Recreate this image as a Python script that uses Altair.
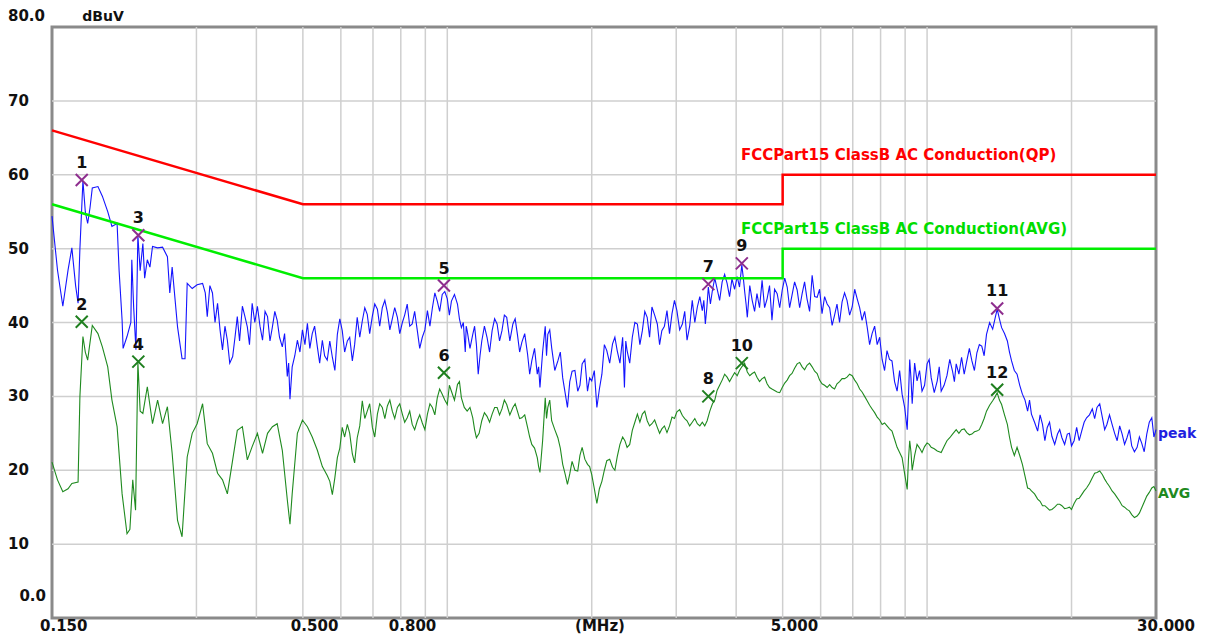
import altair as alt
import pandas as pd

# ---------------- data ----------------
peak_freq = [0.150, 0.154, 0.158, 0.162, 0.165, 0.168, 0.170, 0.1715, 0.174, 0.176, 0.178, 0.180, 0.182, 0.187,
             0.191, 0.196, 0.200, 0.205, 0.207, 0.210, 0.211, 0.215, 0.219, 0.220, 0.222, 0.2244, 0.2265, 0.229,
             0.232, 0.234, 0.237, 0.240, 0.243, 0.249, 0.255, 0.261, 0.264, 0.267, 0.274, 0.280, 0.284, 0.287,
             0.294, 0.301, 0.309, 0.313, 0.316, 0.320, 0.324, 0.332, 0.340, 0.348, 0.357, 0.365, 0.374, 0.383,
             0.392, 0.402, 0.412, 0.422, 0.432, 0.442, 0.453, 0.464, 0.470, 0.475, 0.487, 0.499, 0.511, 0.523,
             0.536, 0.549, 0.562, 0.576, 0.590, 0.604, 0.619, 0.634, 0.649, 0.665, 0.681, 0.698, 0.715, 0.732,
             0.750, 0.768, 0.787, 0.806, 0.825, 0.845, 0.866, 0.887, 0.909, 0.931, 0.953, 0.976, 1.00, 1.02,
             1.05, 1.07, 1.09, 1.10, 1.13, 1.15, 1.16, 1.18, 1.21, 1.24, 1.27, 1.30, 1.33, 1.37, 1.40, 1.43,
             1.47, 1.50, 1.54, 1.56, 1.60, 1.62, 1.65, 1.70, 1.74, 1.78, 1.82, 1.87, 1.91, 1.96, 2.00, 2.05,
             2.10, 2.15, 2.21, 2.26, 2.32, 2.34, 2.37, 2.43, 2.49, 2.55, 2.61, 2.67, 2.74, 2.80, 2.87, 2.94,
             3.01, 3.09, 3.16, 3.24, 3.32, 3.40, 3.45, 3.50, 3.57, 3.65, 3.74, 3.83, 3.92, 4.02, 4.11, 4.17,
             4.22, 4.32, 4.42, 4.53, 4.64, 4.75, 4.87, 4.99, 5.11, 5.23, 5.36, 5.49, 5.62, 5.76, 5.90, 6.04,
             6.19, 6.34, 6.49, 6.65, 6.81, 6.98, 7.15, 7.32, 7.50, 7.68, 7.87, 8.06, 8.25, 8.45, 8.66, 8.87,
             9.09, 9.20, 9.31, 9.53, 9.76, 10.0, 10.2, 10.5, 10.7, 11.0, 11.3, 11.5, 11.8, 12.1, 12.4, 12.7,
             13.0, 13.3, 13.7, 14.0, 14.3, 14.7, 15.0, 15.4, 15.8, 16.2, 16.5, 17.0, 17.4, 17.8, 18.2, 18.7,
             19.1, 19.6, 20.0, 20.5, 21.0, 21.5, 22.1, 22.6, 23.2, 23.7, 24.3, 24.9, 25.5, 26.1, 26.7, 27.4,
             28.0, 28.7, 29.4, 30.0]
peak_db = [54.4, 47.1, 42.2, 47.1, 50.1, 45.0, 42.6, 50.0, 59.2, 55.0, 53.4, 55.5, 58.2, 58.4,
           57.1, 55.0, 53.0, 53.4, 47.0, 40.3, 36.5, 38.1, 40.0, 48.5, 42.0, 36.3, 51.8, 47.0,
           50.7, 46.0, 48.5, 47.5, 50.3, 50.1, 50.2, 48.9, 44.0, 47.5, 39.4, 35.1, 35.1, 45.3,
           44.6, 45.1, 45.3, 44.0, 40.8, 45.0, 44.0, 42.6, 36.3, 37.6, 35.4, 40.8, 42.2, 39.4,
           42.6, 42.2, 37.6, 40.8, 39.4, 40.3, 36.7, 32.7, 29.6, 34.0, 37.6, 39.0, 39.9, 38.5,
           36.7, 37.6, 34.9, 35.3, 38.4, 38.9, 37.5, 34.8, 40.7, 40.2, 41.1, 40.9, 41.8, 42.0,
           41.4, 40.5, 40.7, 40.0, 42.5, 39.8, 38.9, 38.0, 41.6, 42.0, 42.9, 43.8, 43.2, 42.9,
           42.5, 39.3, 36.0, 38.9, 38.4, 37.0, 33.0, 37.5, 38.0, 38.9, 39.8, 38.9, 40.7, 39.8, 38.4, 37.3,
           35.7, 34.8, 33.0, 31.2, 39.5, 38.4, 36.6, 34.8, 32.5, 28.5, 33.4, 30.7, 34.4, 30.7, 32.1, 28.5,
           33.0, 36.2, 37.1, 36.2, 38.0, 31.2, 36.2, 38.0, 39.8, 38.9, 40.7, 42.1, 39.8, 38.9, 41.6, 41.2,
           41.6, 39.8, 37.6, 43.0, 42.1, 41.6, 39.8, 44.8, 44.4, 44.6, 45.5, 45.3, 45.9, 46.2, 47.8, 44.0,
           40.7, 43.0, 43.9, 45.7, 43.2, 40.3, 43.9, 44.4, 44.8, 43.7, 44.4, 43.9, 43.2, 46.4, 43.4, 41.2,
           42.5, 39.6, 42.5, 42.8, 43.0, 42.1, 43.2, 40.3, 39.4, 38.5, 37.0, 35.0, 36.2, 34.8, 30.7, 30.3,
           25.5, 35.0, 29.0, 32.1, 30.7, 34.4, 32.5, 32.1, 30.7, 32.8, 33.4, 34.4, 35.3, 34.8, 34.8, 35.9,
           36.8, 38.4, 39.1, 41.8, 39.3, 37.5, 34.8, 33.0, 30.3, 28.0, 27.6, 25.3, 26.2, 25.8, 24.6, 24.9,
           24.4, 24.9, 23.3, 25.8, 25.3, 27.1, 28.3, 28.5, 27.1, 26.2, 26.2, 24.0, 24.9, 24.4, 23.3, 23.1,
           23.7, 24.9, 27.1, 25.5]

# in-between samples of the dense noisy band of the peak trace
peak_fine_freq = [0.328, 0.336, 0.344, 0.352, 0.361, 0.369, 0.378, 0.387, 0.397, 0.407, 0.417, 0.427, 0.437,
                  0.447, 0.458, 0.467, 0.481, 0.493, 0.505, 0.517, 0.529, 0.542, 0.555, 0.569, 0.583, 0.597,
                  0.611, 0.626, 0.641, 0.657, 0.673, 0.689, 0.706, 0.723, 0.741, 0.759, 0.777, 0.796, 0.815,
                  0.835, 0.855, 0.876, 0.898, 0.920, 0.942, 0.964, 0.988, 1.01, 1.035, 1.06, 1.08, 1.095,
                  1.115, 1.14, 1.17, 1.195, 1.225, 1.255, 1.285, 1.315, 1.35, 1.385, 1.415, 1.45, 1.485, 1.52,
                  1.55, 1.58, 1.61, 1.635, 1.675, 1.72, 1.76, 1.80, 1.845, 1.89, 1.935, 1.98, 2.025, 2.075,
                  2.125, 2.18, 2.235, 2.29, 2.355, 2.40, 2.46, 2.52, 2.58, 2.64, 2.705, 2.77, 2.835, 2.905,
                  2.975, 3.05, 3.125, 3.20, 3.28, 3.36, 3.425, 3.475, 3.535, 3.61, 3.695, 3.785, 3.875, 3.97,
                  4.065, 4.14, 4.195, 4.27, 4.37, 4.475, 4.585, 4.695, 4.81, 4.93, 5.05, 5.17, 5.295, 5.425,
                  5.555, 5.69, 5.83, 5.97, 6.115, 6.265, 6.415, 6.57, 6.73, 6.895, 7.065, 7.235, 7.41, 7.59,
                  7.775, 7.965, 8.155, 8.35, 8.555, 8.765, 8.98, 9.145, 9.255, 9.42, 9.645, 9.88, 10.1, 10.35,
                  10.6, 10.85, 11.15, 11.4, 11.65, 11.95, 12.25, 12.55, 12.85, 13.15, 13.5, 13.85, 14.15,
                  14.5, 14.85, 15.2, 15.6, 16.0, 16.35, 16.75, 17.2, 17.6, 18.0, 18.45, 18.9, 19.35, 19.8,
                  20.25, 20.75, 21.25, 21.8, 22.35, 22.9, 23.45, 24.0, 24.6, 25.2, 25.8, 26.4, 27.05, 27.7,
                  28.35, 29.05, 29.7]
peak_fine_db = [40.0, 39.0, 39.5, 34.5, 38.0, 37.5, 41.0, 37.0, 40.0, 39.5, 41.5, 37.5, 41.5,
                38.0, 38.5, 34.5, 35.5, 36.0, 37.0, 36.5, 39.5, 34.5, 35.5, 37.5, 33.5, 40.5,
                36.0, 38.0, 37.0, 38.0, 42.0, 38.5, 42.5, 39.5, 43.0, 39.0, 42.0, 38.5, 41.0,
                39.5, 41.5, 36.5, 39.0, 39.5, 44.0, 41.5, 44.2, 41.0, 43.8, 40.5, 40.0, 39.5,
                36.5, 39.5, 35.5, 39.5, 36.0, 40.5, 37.5, 41.0, 37.5, 40.5, 36.0, 38.5, 33.0, 36.5,
                34.0, 36.0, 35.5, 39.0, 33.5, 36.0, 30.5, 32.0, 33.5, 31.5, 35.0, 32.5, 33.5, 31.0,
                37.0, 34.5, 38.0, 34.5, 37.5, 34.5, 40.0, 37.0, 41.5, 38.0, 41.0, 37.0, 39.5, 38.5,
                43.0, 39.0, 41.5, 39.5, 40.0, 43.5, 43.0, 42.0, 42.5, 46.0, 43.0, 46.5, 43.5, 44.5,
                44.8, 46.0, 42.5, 45.0, 41.5, 42.0, 42.0, 45.0, 44.5, 42.0, 46.0, 42.0, 45.5, 42.0,
                45.5, 41.5, 43.5, 44.5, 43.5, 42.0, 41.0, 40.0, 44.0, 41.0, 44.5, 42.0, 41.5, 37.0,
                39.5, 38.0, 33.5, 35.0, 32.0, 33.5, 28.5, 30.0, 32.5, 34.5, 33.5, 31.5, 35.0, 30.5,
                34.0, 31.5, 35.0, 32.0, 33.0, 33.0, 36.5, 33.5, 37.0, 35.5, 40.0, 40.5, 40.5,
                38.5, 36.0, 33.5, 31.5, 29.5, 29.5, 26.5, 27.5, 24.0, 26.5, 23.5, 25.5, 23.5, 25.0,
                24.0, 24.0, 26.5, 27.5, 27.0, 29.0, 25.5, 27.5, 25.0, 26.0, 23.5, 25.5, 22.5, 24.5,
                22.5, 26.5, 24.5]

avg_freq = [0.150, 0.154, 0.158, 0.162, 0.165, 0.170, 0.1715, 0.174, 0.176, 0.178, 0.182, 0.187, 0.191,
            0.196, 0.200, 0.205, 0.210, 0.215, 0.218, 0.221, 0.224, 0.2265, 0.229, 0.232, 0.237, 0.243,
            0.249, 0.255, 0.261, 0.267, 0.274, 0.280, 0.287, 0.294, 0.301, 0.309, 0.316, 0.324, 0.332,
            0.340, 0.348, 0.357, 0.365, 0.374, 0.383, 0.392, 0.402, 0.412, 0.422, 0.432, 0.442, 0.453,
            0.464, 0.470, 0.475, 0.487, 0.499, 0.511, 0.523, 0.536, 0.549, 0.562, 0.576, 0.590, 0.604,
            0.619, 0.634, 0.649, 0.665, 0.681, 0.698, 0.715, 0.732, 0.750, 0.768, 0.787, 0.806, 0.825,
            0.845, 0.866, 0.887, 0.909, 0.931, 0.953, 0.976, 1.00, 1.02, 1.05, 1.07, 1.10, 1.13, 1.15,
            1.18, 1.21, 1.24, 1.27, 1.30, 1.33, 1.37, 1.40, 1.43, 1.47, 1.50, 1.54, 1.56, 1.60, 1.62,
            1.65, 1.70, 1.74, 1.78, 1.82, 1.87, 1.91, 1.96, 2.00, 2.05, 2.10, 2.15, 2.21, 2.26, 2.32,
            2.37, 2.43, 2.49, 2.55, 2.61, 2.67, 2.74, 2.80, 2.87, 2.94, 3.01, 3.09, 3.16, 3.24, 3.32,
            3.40, 3.48, 3.57, 3.65, 3.74, 3.83, 3.92, 4.02, 4.11, 4.22, 4.32, 4.42, 4.53, 4.64, 4.75,
            4.87, 4.99, 5.11, 5.23, 5.36, 5.49, 5.62, 5.76, 5.90, 6.04, 6.19, 6.34, 6.49, 6.65, 6.81,
            6.98, 7.15, 7.32, 7.50, 7.68, 7.87, 8.06, 8.25, 8.45, 8.66, 8.87, 9.09, 9.20, 9.31, 9.53,
            9.76, 10.0, 10.2, 10.5, 10.7, 11.0, 11.3, 11.5, 11.8, 12.1, 12.4, 12.7, 13.0, 13.3, 13.7,
            14.0, 14.3, 14.7, 15.0, 15.4, 15.8, 16.2, 16.5, 17.0, 17.4, 17.8, 18.2, 18.7, 19.1, 19.6,
            20.0, 20.5, 21.0, 21.5, 22.1, 22.6, 23.2, 23.7, 24.3, 24.9, 25.5, 26.1, 26.7, 27.4, 28.0,
            28.7, 29.4, 30.0]
avg_db = [21.1, 18.7, 17.1, 17.5, 18.2, 18.4, 30.0, 38.1, 36.0, 34.9, 39.6, 38.5, 36.7,
          34.0, 29.5, 25.9, 16.8, 11.4, 12.0, 18.7, 14.6, 34.7, 28.0, 27.7, 31.3, 26.3,
          29.5, 26.3, 28.6, 22.3, 13.2, 11.0, 21.8, 25.0, 26.3, 29.0, 23.6, 22.3, 19.6,
          18.7, 16.8, 21.4, 25.4, 25.9, 21.4, 23.2, 25.0, 22.3, 25.0, 25.9, 26.3, 22.7,
          16.0, 12.7, 16.8, 25.0, 26.8, 25.9, 24.5, 22.7, 20.5, 19.3, 16.7, 21.7, 25.8,
          26.2, 22.2, 24.4, 29.4, 28.0, 25.8, 27.6, 28.5, 28.7, 28.0, 28.5, 27.6, 27.1,
          26.2, 26.7, 26.4, 27.6, 28.5, 29.8, 30.3, 28.9, 30.7, 31.6, 29.8, 28.0, 27.1, 24.4,
          26.7, 27.3, 27.6, 28.5, 28.3, 28.9, 28.5, 28.0, 27.1, 25.8, 23.5, 21.7, 19.7, 29.8, 28.5,
          26.7, 24.4, 20.8, 18.1, 21.2, 19.9, 23.1, 20.8, 19.4, 15.5, 18.5, 21.3, 20.4, 21.8, 24.5,
          23.1, 25.4, 27.6, 27.6, 26.7, 26.3, 25.8, 25.6, 25.1, 27.2, 27.9, 27.4, 26.7, 26.5, 26.3,
          26.5, 26.7, 29.0, 30.8, 32.2, 32.6, 32.6, 32.8, 34.0, 33.3, 33.1, 32.6, 32.4, 31.7, 31.0,
          30.6, 31.2, 32.2, 33.1, 34.4, 34.0, 34.2, 34.0, 33.1, 31.7, 31.2, 31.2, 31.7, 32.4, 32.6,
          32.8, 31.7, 30.6, 29.4, 28.3, 27.2, 26.2, 26.0, 25.3, 23.1, 21.7, 17.4, 24.0, 20.0, 23.5,
          22.4, 23.7, 23.1, 22.6, 22.4, 24.0, 24.9, 25.5, 25.5, 25.1, 24.9, 25.3, 26.2, 28.0, 29.4,
          30.5, 28.9, 26.2, 23.1, 23.1, 20.8, 17.6, 17.2, 16.1, 15.2, 14.9, 14.7, 15.4, 15.2, 14.9,
          14.7, 16.1, 16.7, 17.6, 19.0, 19.7, 19.4, 18.3, 17.2, 16.3, 15.2, 14.7, 14.0, 13.8, 14.9,
          16.5, 17.6, 17.2]

# in-between samples of the noisy band of the AVG trace
avg_fine_freq = [0.569, 0.583, 0.597, 0.611, 0.626, 0.641, 0.657, 0.673, 0.689, 0.706, 0.723, 0.741, 0.759,
                 0.777, 0.796, 0.815, 0.835, 0.855, 0.876, 0.898, 0.920, 0.942, 0.964, 0.988, 1.01, 1.035,
                 1.06, 1.085, 1.115, 1.14, 1.165, 1.195, 1.225, 1.255, 1.285, 1.315, 1.35, 1.385, 1.415,
                 1.45, 1.485, 1.52, 1.55, 1.58, 1.61, 1.635, 1.675, 1.72, 1.76, 1.80, 1.845, 1.89, 1.935,
                 1.98, 2.025, 2.075, 2.125, 2.18, 2.235, 2.29, 2.345, 2.40, 2.46, 2.52, 2.58, 2.64, 2.705,
                 2.77, 2.835, 2.905, 2.975, 3.05, 3.125, 3.20, 3.28, 3.36, 3.44, 3.525, 3.61, 3.695, 3.785,
                 3.875, 3.97, 4.065, 4.165, 4.27, 4.37, 4.475, 4.585, 4.695, 4.81, 4.93, 5.05, 5.17, 5.295,
                 5.425, 5.555, 5.69, 5.83, 5.97, 6.115, 6.265, 6.415, 6.57, 6.73, 6.895, 7.065, 7.235, 7.41,
                 7.59, 7.775, 7.965, 8.155, 8.35, 8.555, 8.765, 8.98, 9.145, 9.255, 9.42, 9.645, 9.88, 10.1,
                 10.35, 10.6, 10.85, 11.15, 11.4, 11.65, 11.95, 12.25, 12.55, 12.85, 13.15, 13.5, 13.85,
                 14.15, 14.5, 14.85, 15.2, 15.6, 16.0, 16.35, 16.75, 17.2, 17.6, 18.0, 18.45, 18.9, 19.35,
                 19.8, 20.25, 20.75, 21.25, 21.8, 22.35, 22.9, 23.45, 24.0, 24.6, 25.2, 25.8, 26.4, 27.05,
                 27.7, 28.35, 29.05, 29.7]
avg_fine_db = [18.5, 19.0, 23.0, 24.5, 25.0, 21.0, 26.0, 27.0, 29.0, 24.5, 29.0, 27.0, 29.5,
               27.0, 29.0, 26.5, 28.0, 25.5, 27.5, 25.5, 29.0, 27.5, 31.0, 29.5, 31.5, 29.5,
               32.0, 28.5, 28.5, 25.5, 25.0, 27.8, 26.5, 28.5, 27.5, 29.5, 27.5, 29.0, 27.0,
               27.5, 24.5, 23.0, 20.5, 24.0, 27.0, 29.5, 25.5, 23.0, 19.5, 19.5, 20.0, 22.0, 21.5,
               20.5, 17.5, 17.5, 20.0, 21.5, 20.0, 23.5, 24.0, 23.5, 26.5, 26.5, 28.0, 26.0, 26.8,
               25.0, 26.0, 26.0, 27.0, 28.2, 27.0, 26.0, 27.0, 26.0, 26.0, 28.0, 29.5, 31.5, 33.0,
               32.0, 33.2, 33.5, 34.5, 32.8, 33.3, 32.0, 32.6, 31.2, 30.8, 30.5, 31.8, 32.8, 33.8,
               34.6, 33.6, 34.5, 33.4, 32.2, 31.5, 31.6, 31.0, 32.0, 32.4, 33.0, 32.2, 31.0, 30.0,
               28.8, 27.8, 26.8, 26.4, 25.6, 24.2, 22.4, 19.5, 21.5, 22.5, 22.0, 23.0, 23.2, 23.5,
               22.9, 22.5, 23.2, 24.4, 25.2, 25.0, 25.6, 24.8, 25.2, 25.5, 27.0, 28.8, 29.9,
               29.5, 27.5, 24.5, 22.0, 22.0, 19.2, 17.5, 16.8, 15.8, 15.2, 14.6, 15.0, 15.4, 14.8,
               15.0, 15.5, 16.2, 17.2, 18.2, 19.6, 19.9, 18.8, 17.8, 16.8, 15.8, 15.0, 14.5, 13.6,
               14.2, 15.7, 17.0, 17.8]

limit_freq = [0.15, 0.5, 5.0, 5.0, 30.0]
qp_limit = [66.0, 56.0, 56.0, 60.0, 60.0]
av_limit = [56.0, 46.0, 46.0, 50.0, 50.0]

marker_no = ["1", "2", "3", "4", "5", "6", "7", "8", "9", "10", "11", "12"]
marker_freq = [0.173, 0.173, 0.227, 0.227, 0.984, 0.984, 3.50, 3.50, 4.11, 4.11, 14.0, 14.0]
marker_db = [59.3, 40.1, 51.8, 34.7, 45.0, 33.2, 45.2, 30.0, 48.0, 34.5, 41.9, 30.9]
marker_kind = ["peak", "avg"] * 6

grid_freq = [0.3, 0.4, 0.5, 0.6, 0.7, 0.8, 0.9, 1, 2, 3, 4, 5, 6, 7, 8, 9, 10, 20]
grid_db = [10, 20, 30, 40, 50, 60, 70]

x_tick_vals = [0.15, 0.5, 0.8, 5.0, 30.0]
x_tick_text = ["0.150", "0.500", "0.800", "5.000", "30.000"]
y_tick_vals = [70, 60, 50, 40, 30, 20, 10]
y_tick_text = ["70", "60", "50", "40", "30", "20", "10"]

# ---------------- chart ----------------
W, H = 1104, 591
FONT = "DejaVu Sans"
xs = alt.Scale(type="log", domain=[0.15, 30], nice=False)
ys = alt.Scale(domain=[0, 80], nice=False, zero=False)


def X(f):
    return alt.X(f, type="quantitative", scale=xs, axis=None)


def Y(f):
    return alt.Y(f, type="quantitative", scale=ys, axis=None)


grid_v = alt.Chart(pd.DataFrame({"f": grid_freq})).mark_rule(
    color="#cfcfcf", strokeWidth=1.5).encode(x=X("f"))
grid_h = alt.Chart(pd.DataFrame({"v": grid_db})).mark_rule(
    color="#cfcfcf", strokeWidth=1.5).encode(y=Y("v"))

peak_df = pd.DataFrame({"f": peak_freq + peak_fine_freq, "v": peak_db + peak_fine_db})
avg_df = pd.DataFrame({"f": avg_freq + avg_fine_freq, "v": avg_db + avg_fine_db})

peak_line = alt.Chart(peak_df).mark_line(color="#1414ff", strokeWidth=1.1).encode(
    x=X("f"), y=Y("v"), order="f:Q")
avg_line = alt.Chart(avg_df).mark_line(color="#1f8a1f", strokeWidth=1.1).encode(
    x=X("f"), y=Y("v"), order="f:Q")

lim = pd.DataFrame({"f": limit_freq, "qp": qp_limit, "av": av_limit,
                    "i": list(range(len(limit_freq)))})
qp_line = alt.Chart(lim).mark_line(color="#ff0000", strokeWidth=2.5).encode(
    x=X("f"), y=Y("qp"), order="i:Q")
av_lim_line = alt.Chart(lim).mark_line(color="#00ee00", strokeWidth=2.5).encode(
    x=X("f"), y=Y("av"), order="i:Q")

mk = pd.DataFrame({"n": marker_no, "f": marker_freq, "v": marker_db, "k": marker_kind})
marks = alt.Chart(mk).mark_point(
    shape="M-1,-1L1,1M-1,1L1,-1", size=144, filled=False, strokeWidth=2, opacity=1
).encode(
    x=X("f"), y=Y("v"),
    color=alt.Color("k:N", scale=alt.Scale(domain=["peak", "avg"], range=["#8e2e8e", "#1f7f1f"]),
                    legend=None),
)
nums = alt.Chart(mk).mark_text(
    dy=-17, font=FONT, fontWeight="bold", fontSize=16, color="#111111"
).encode(x=X("f"), y=Y("v"), text="n:N")

lbl_qp = alt.Chart(pd.DataFrame({"t": ["FCCPart15 ClassB AC Conduction(QP)"]})).mark_text(
    align="left", baseline="middle", font=FONT, fontWeight="bold", fontSize=15, color="#ff0000"
).encode(text="t:N", x=alt.value(689), y=alt.value(128))
lbl_av = alt.Chart(pd.DataFrame({"t": ["FCCPart15 ClassB AC Conduction(AVG)"]})).mark_text(
    align="left", baseline="middle", font=FONT, fontWeight="bold", fontSize=15, color="#00dd00"
).encode(text="t:N", x=alt.value(689), y=alt.value(202))
lbl_peak = alt.Chart(pd.DataFrame({"t": ["peak"]})).mark_text(
    align="left", baseline="middle", font=FONT, fontWeight="bold", fontSize=14, color="#1f1fe0"
).encode(text="t:N", x=alt.value(1106), y=alt.value(407))
lbl_avg = alt.Chart(pd.DataFrame({"t": ["AVG"]})).mark_text(
    align="left", baseline="middle", font=FONT, fontWeight="bold", fontSize=14, color="#1f8a1f"
).encode(text="t:N", x=alt.value(1106), y=alt.value(467))
lbl_unit_y = alt.Chart(pd.DataFrame({"t": ["dBuV"]})).mark_text(
    align="center", baseline="middle", font=FONT, fontWeight="bold", fontSize=14, color="#111111"
).encode(text="t:N", x=alt.value(51), y=alt.value(-10))
lbl_unit_x = alt.Chart(pd.DataFrame({"t": ["(MHz)"]})).mark_text(
    align="center", baseline="middle", font=FONT, fontWeight="bold", fontSize=15, color="#111111"
).encode(text="t:N", x=alt.value(548), y=alt.value(599))

x_ticks = alt.Chart(pd.DataFrame({"f": x_tick_vals[:-1], "t": x_tick_text[:-1]})).mark_text(
    align="left", baseline="middle", dx=-12, font=FONT, fontWeight="bold", fontSize=15, color="#111111"
).encode(x=X("f"), y=alt.value(599), text="t:N")
x_last = alt.Chart(pd.DataFrame({"f": x_tick_vals[-1:], "t": x_tick_text[-1:]})).mark_text(
    align="right", baseline="middle", dx=39, font=FONT, fontWeight="bold", fontSize=15, color="#111111"
).encode(x=X("f"), y=alt.value(599), text="t:N")
y_ticks = alt.Chart(pd.DataFrame({"v": y_tick_vals, "t": y_tick_text})).mark_text(
    align="left", baseline="middle", font=FONT, fontWeight="bold", fontSize=15, color="#111111"
).encode(y=Y("v"), x=alt.value(-44), text="t:N")
y_top = alt.Chart(pd.DataFrame({"v": [80], "t": ["80.0"]})).mark_text(
    align="right", baseline="middle", dy=-11, font=FONT, fontWeight="bold", fontSize=15, color="#111111"
).encode(y=Y("v"), x=alt.value(-7), text="t:N")
y_bot = alt.Chart(pd.DataFrame({"v": [0], "t": ["0.0"]})).mark_text(
    align="right", baseline="middle", dy=-22, font=FONT, fontWeight="bold", fontSize=15, color="#111111"
).encode(y=Y("v"), x=alt.value(-6), text="t:N")

chart = alt.layer(
    grid_v, grid_h, avg_line, peak_line, qp_line, av_lim_line, marks, nums,
    lbl_qp, lbl_av, lbl_peak, lbl_avg, lbl_unit_y, lbl_unit_x, x_ticks, x_last, y_ticks, y_top, y_bot,
).properties(
    width=W, height=H,
    autosize=alt.AutoSizeParams(type="none"),
    padding={"left": 44, "top": 19, "right": 41, "bottom": 20},
    background="white",
).configure_view(stroke="#8a8a8a", strokeWidth=3)

chart.save("out.html", embed_options={"renderer": "svg", "actions": False})
